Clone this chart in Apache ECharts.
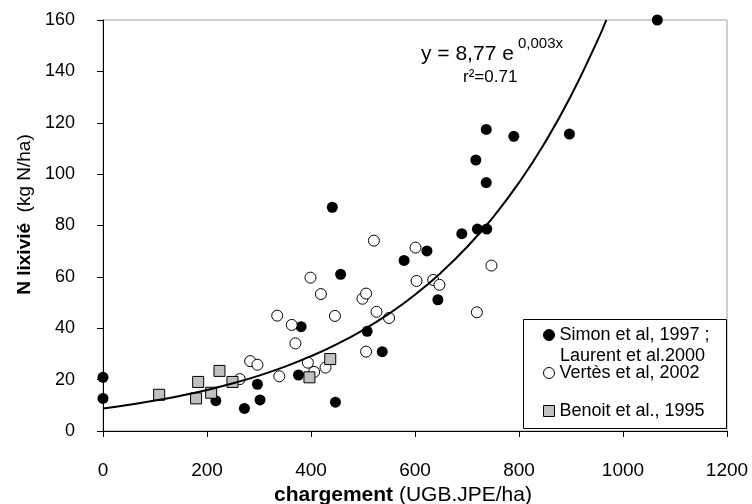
<!DOCTYPE html>
<html><head><meta charset="utf-8">
<script src="https://cdn.jsdelivr.net/npm/echarts@6/dist/echarts.min.js"></script>
<style>html,body{margin:0;padding:0;background:#fff}#c{width:752px;height:504px}</style>
</head><body><div id="c"></div>
<script>
// ---- data ----
const seriesNames = ['Simon et al, 1997 ;', 'Vertès et al, 2002', 'Benoit et al., 1995'];
const simonX = [0, 0, 217, 272, 297, 302, 376, 381, 441, 447, 457, 508, 537, 579, 623, 644, 690, 717, 720, 737, 737, 738, 790, 897, 1066];
const simonY = [20.9, 12.7, 11.8, 8.8, 18.2, 12.1, 21.8, 40.6, 87.1, 11.2, 61.0, 38.8, 30.9, 66.4, 70.1, 51.1, 76.8, 105.5, 78.6, 117.4, 96.7, 78.6, 114.7, 115.6, 160];
const vertesX = [263, 283, 297, 335, 339, 363, 370, 394, 399, 406, 419, 428, 446, 499, 506, 506, 521, 526, 550, 601, 603, 635, 647, 719, 747];
const vertesY = [20.2, 27.2, 25.8, 44.9, 21.3, 41.3, 34.1, 26.6, 59.7, 23.0, 53.3, 24.7, 44.8, 51.5, 53.5, 30.9, 74.1, 46.4, 44.0, 71.4, 58.4, 58.8, 56.9, 46.2, 64.4];
const benoitX = [108, 179, 183, 208, 224, 249, 397, 437];
const benoitY = [14.1, 12.7, 19.1, 14.9, 23.4, 19.1, 20.9, 28.0];
// trend curve (y = 8,77 e^0,003x)
const trendX = [0, 50, 100, 150, 200, 250, 300, 350, 400, 450, 500, 550, 600, 650, 700, 750, 800, 850, 900, 950, 968];
const trendY = [8.77, 10.19, 11.84, 13.75, 15.98, 18.57, 21.57, 25.06, 29.12, 33.83, 39.30, 45.67, 53.06, 61.64, 71.62, 83.21, 96.67, 112.3, 130.5, 151.6, 160.0];
const xTickLabels = ['0', '200', '400', '600', '800', '1000', '1200'];
const yTickLabels = ['0', '20', '40', '60', '80', '100', '120', '140', '160'];
const legendSecondLine = 'Laurent et al.2000';
const eqMain = 'y = 8,77 e';
const eqExp = '0,003x';
const r2Text = 'r²=0.71';
const xTitleBold = 'chargement', xTitleRest = ' (UGB.JPE/ha)';
const yTitleBold = 'N lixivié', yTitleRest = '  (kg N/ha)';

const zip = (a, b) => a.map((v, i) => [v, b[i]]);
const FONT = 'Liberation Sans, Arial, sans-serif';

const chart = echarts.init(document.getElementById('c'), null, {renderer: 'canvas'});
chart.setOption({
  backgroundColor: '#fff',
  animation: false,
  textStyle: {fontFamily: FONT},
  grid: {left: 103, right: 25, top: 20, bottom: 73, show: true, borderColor: '#a0a0a0', borderWidth: 1,
    backgroundColor: 'transparent', containLabel: false, outerBoundsMode: 'none'},
  xAxis: {
    type: 'value', min: 0, max: 1200, interval: 200,
    axisLine: {show: true, onZero: false, lineStyle: {color: '#000', width: 1}},
    axisTick: {show: true, inside: false, length: 6, lineStyle: {color: '#000'}},
    splitLine: {show: false},
    axisLabel: {margin: 30, color: '#000', fontSize: 19, fontFamily: FONT,
      formatter: v => xTickLabels[Math.round(v / 200)]},
    name: '{b|' + xTitleBold + '}' + xTitleRest,
    nameLocation: 'middle', nameGap: 53,
    nameTextStyle: {color: '#000', fontSize: 21, fontFamily: FONT, padding: [0, 24, 0, 0],
      rich: {b: {fontWeight: 'bold', fontSize: 21, fontFamily: FONT, color: '#000'}}}
  },
  yAxis: {
    type: 'value', min: 0, max: 160, interval: 20,
    axisLine: {show: true, onZero: false, lineStyle: {color: '#000', width: 1}},
    axisTick: {show: true, inside: false, length: 6, lineStyle: {color: '#000'}},
    splitLine: {show: false},
    axisLabel: {margin: 28, color: '#000', fontSize: 18, fontFamily: FONT,
      formatter: v => yTickLabels[Math.round(v / 20)]},
    name: '{b|' + yTitleBold + '}' + yTitleRest,
    nameLocation: 'middle', nameGap: 68, nameRotate: 90,
    nameTextStyle: {color: '#000', fontSize: 19, fontFamily: FONT, padding: [0, 0, 0, 22],
      rich: {b: {fontWeight: 'bold', fontSize: 19, fontFamily: FONT, color: '#000'}}}
  },
  legend: {
    orient: 'vertical', left: 543, top: 325, padding: 0, itemGap: 18,
    itemWidth: 11, itemHeight: 11, itemStyle: {borderWidth: 1},
    z: 20,
    data: [
      {name: seriesNames[0], icon: 'circle', itemStyle: {color: '#000', borderColor: '#000'}},
      {name: seriesNames[1], icon: 'circle', itemStyle: {color: '#fff', borderColor: '#000', borderWidth: 1}},
      {name: seriesNames[2], icon: 'rect', itemStyle: {color: '#c0c0c0', borderColor: '#000', borderWidth: 1}}
    ],
    textStyle: {fontSize: 18, lineHeight: 20, color: '#000', fontFamily: FONT}
  },
  graphic: [
    {type: 'rect', z: 15, shape: {x: 523.5, y: 319.5, width: 203, height: 109}, style: {fill: '#fff', stroke: '#000', lineWidth: 1}},
    {type: 'text', z: 21, left: 560, top: 347, style: {text: legendSecondLine, fontSize: 18, fontFamily: FONT, fill: '#000'}},
    {type: 'text', z: 21, left: 421, top: 44, style: {text: eqMain, fontSize: 21, fontFamily: FONT, fill: '#000'}},
    {type: 'text', z: 21, left: 518, top: 36, style: {text: eqExp, fontSize: 15, fontFamily: FONT, fill: '#000'}},
    {type: 'text', z: 21, left: 463, top: 69, style: {text: r2Text, fontSize: 17, fontFamily: FONT, fill: '#000'}}
  ],
  series: [
    {name: seriesNames[0], type: 'scatter', symbol: 'circle', symbolSize: 11, z: 3,
      itemStyle: {color: '#000', borderColor: '#000', borderWidth: 0, opacity: 1},
      data: zip(simonX, simonY), clip: false},
    {name: seriesNames[1], type: 'scatter', symbol: 'circle', symbolSize: 11, z: 3,
      itemStyle: {color: '#fff', borderColor: '#000', borderWidth: 1, opacity: 1},
      data: zip(vertesX, vertesY)},
    {name: seriesNames[2], type: 'scatter', symbol: 'rect', symbolSize: 11, z: 3,
      itemStyle: {color: '#c0c0c0', borderColor: '#000', borderWidth: 1, opacity: 1},
      data: zip(benoitX, benoitY)},
    {name: 'trend', type: 'line', smooth: true, showSymbol: false, symbol: 'none', z: 4,
      lineStyle: {color: '#000', width: 2}, silent: true,
      data: zip(trendX, trendY)}
  ]
});
</script></body></html>
